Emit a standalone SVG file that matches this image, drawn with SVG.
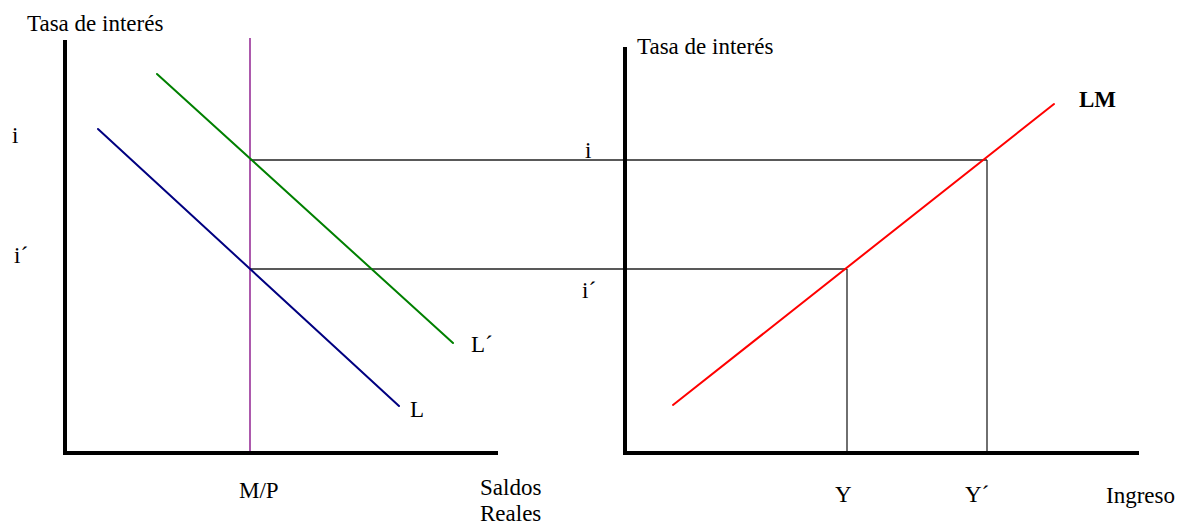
<svg xmlns="http://www.w3.org/2000/svg" width="1179" height="525" viewBox="0 0 1179 525">
<style>
text{font-family:"Liberation Serif","Times New Roman",serif;font-size:23px;fill:#000}
.axis{stroke:#000;stroke-width:4;fill:none}
.guide{stroke:#222;stroke-width:1.3;fill:none}
.curve{stroke-width:2;fill:none;stroke-linecap:round}
</style>
<rect width="1179" height="525" fill="#fff"/>
<g id="connectors">
<line class="guide" x1="250" y1="160" x2="987" y2="160"/>
<line class="guide" x1="250" y1="269" x2="847" y2="269"/>
<line class="guide" x1="847" y1="269" x2="847" y2="453"/>
<line class="guide" x1="987" y1="160" x2="987" y2="453"/>
<line x1="250" y1="38" x2="250" y2="453" stroke="#800080" stroke-width="1.3"/>
</g>
<g id="left-axes">
<polyline class="axis" points="65,40 65,453 498,453"/>
<text x="27" y="31">Tasa de interés</text>
<text x="12" y="143">i</text>
<text x="14" y="263">i´</text>
<text x="239" y="498">M/P</text>
<text x="480" y="495" font-size="21.5">Saldos</text>
<text x="480" y="521" font-size="21.5">Reales</text>
</g>
<g id="curve-Lp">
<line class="curve" stroke="#008000" x1="157" y1="74" x2="453" y2="343"/>
<text x="471" y="352">L´</text>
</g>
<g id="curve-L">
<line class="curve" stroke="#000080" x1="98" y1="129" x2="399" y2="406"/>
<text x="410" y="417">L</text>
</g>
<g id="right-axes">
<polyline class="axis" points="625,47 625,453 1139,453"/>
<text x="637" y="54">Tasa de interés</text>
<text x="585" y="158">i</text>
<text x="582" y="298">i´</text>
<text x="835" y="502">Y</text>
<text x="965" y="502">Y´</text>
<text x="1106" y="503">Ingreso</text>
</g>
<g id="curve-LM">
<line class="curve" stroke="#ff0000" x1="673" y1="405" x2="1054" y2="104"/>
<text x="1079" y="107" font-weight="bold" font-size="24">LM</text>
</g>
</svg>
